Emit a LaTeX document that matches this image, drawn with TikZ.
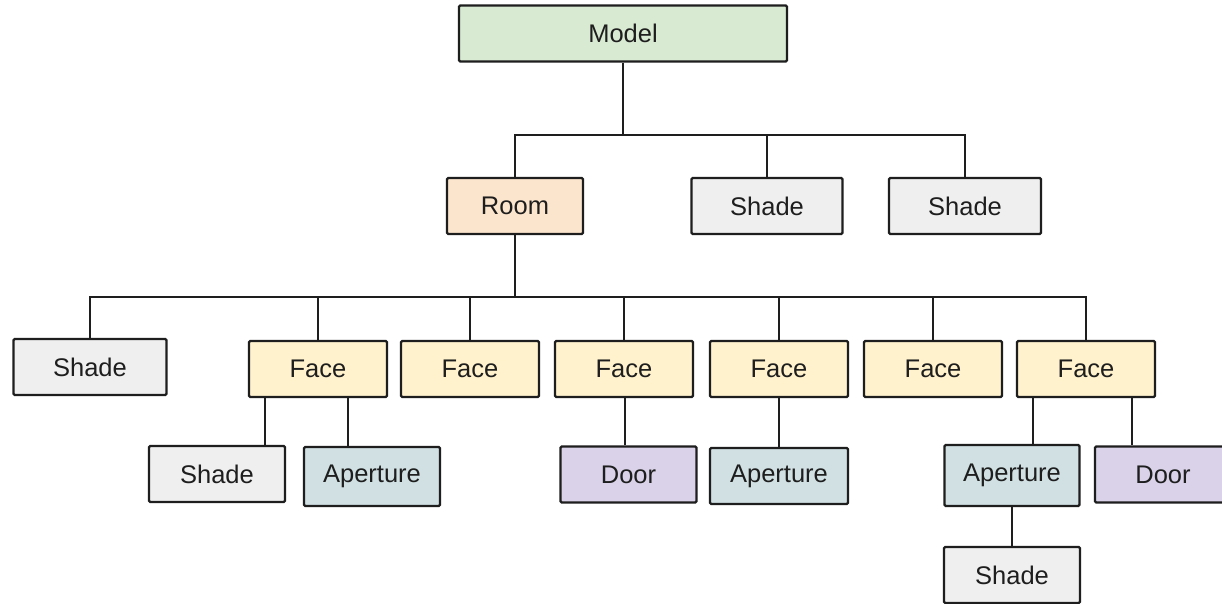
\documentclass[tikz,border=0pt]{standalone}
\usepackage{fontspec}
\setmainfont{Liberation Sans}
\definecolor{cmodel}{HTML}{D9EAD3}
\definecolor{croom}{HTML}{FCE5CD}
\definecolor{cshade}{HTML}{EFEFEF}
\definecolor{cface}{HTML}{FFF2CC}
\definecolor{caper}{HTML}{D0E0E3}
\definecolor{cdoor}{HTML}{D9D2E9}
\definecolor{cline}{HTML}{1E1E1E}
\tikzset{
  nbox/.style={draw=cline, line width=2.3pt, rounded corners=1.2pt, inner sep=0pt,
    text=cline, font=\fontsize{25.5}{29}\selectfont, minimum height=56pt},
  modelbox/.style={nbox, fill=cmodel},
  roombox/.style={nbox, fill=croom},
  shadebox/.style={nbox, fill=cshade},
  facebox/.style={nbox, fill=cface, minimum width=138pt},
  aperbox/.style={nbox, fill=caper},
  doorbox/.style={nbox, fill=cdoor, minimum width=136pt},
  conn/.style={draw=cline, line width=2.3pt}
}
\begin{document}
\begin{tikzpicture}[x=1pt,y=-1pt]
\useasboundingbox (0,0) rectangle (1222,604);
\clip (0,0) rectangle (1222,604);
\fill[white] (0,0) rectangle (1222,604);
% nodes
\node[modelbox, minimum width=328pt] (model) at (623,33.5) {Model};
\node[roombox, minimum width=136pt] (room) at (515,206) {Room};
\node[shadebox, minimum width=151pt] (shadeA) at (767,206) {Shade};
\node[shadebox, minimum width=152pt] (shadeB) at (965,206) {Shade};
\node[shadebox, minimum width=153pt] (shadeL) at (90,367) {Shade};
\node[facebox] (face1) at (318,369) {Face};
\node[facebox] (face2) at (470,369) {Face};
\node[facebox] (face3) at (624,369) {Face};
\node[facebox] (face4) at (779,369) {Face};
\node[facebox] (face5) at (933,369) {Face};
\node[facebox] (face6) at (1086,369) {Face};
\node[shadebox, minimum width=136pt] (shade1) at (217,474) {Shade};
\node[aperbox, minimum width=136pt, minimum height=59pt] (aper1) at (372,476.5) {Aperture};
\node[doorbox] (door1) at (628.5,474.5) {Door};
\node[aperbox, minimum width=138pt] (aper2) at (779,476) {Aperture};
\node[aperbox, minimum width=135pt, minimum height=61pt] (aper3) at (1012,475.5) {Aperture};
\node[doorbox] (door2) at (1163,474.5) {Door};
\node[shadebox, minimum width=136pt] (shade3) at (1012,575) {Shade};
% helper coordinates
\coordinate (b1) at (623,135);
\coordinate (b2) at (516,297);
\coordinate (x1) at (265,0);
\coordinate (x2) at (348,0);
\coordinate (x3) at (625,0);
\coordinate (x4) at (1033,0);
\coordinate (x5) at (1132,0);
% connectors level 1
\draw[conn] (model.south) -- (model.south |- b1);
\draw[conn] (room.north) -- (room.north |- b1) -- (shadeB.north |- b1) -- (shadeB.north);
\draw[conn] (shadeA.north) -- (shadeA.north |- b1);
% connectors level 2
\draw[conn] (room.south) -- (room.south |- b2);
\draw[conn] (shadeL.north) -- (shadeL.north |- b2) -- (face6.north |- b2) -- (face6.north);
\foreach \f in {face1,face2,face3,face4,face5}
  \draw[conn] (\f.north) -- (\f.north |- b2);
% connectors level 3
\draw[conn] (face1.south -| x1) -- (shade1.north -| x1);
\draw[conn] (face1.south -| x2) -- (aper1.north -| x2);
\draw[conn] (face3.south -| x3) -- (door1.north -| x3);
\draw[conn] (face4.south) -- (aper2.north);
\draw[conn] (face6.south -| x4) -- (aper3.north -| x4);
\draw[conn] (face6.south -| x5) -- (door2.north -| x5);
\draw[conn] (aper3.south) -- (shade3.north);
\end{tikzpicture}
\end{document}
